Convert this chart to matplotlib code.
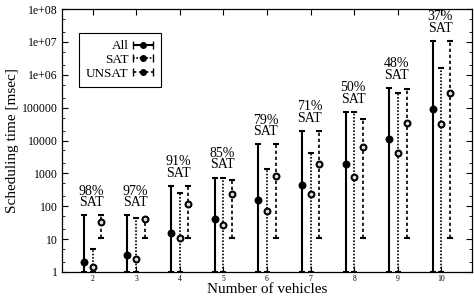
import matplotlib
matplotlib.use("Agg")
import matplotlib.pyplot as plt
import numpy as np
from matplotlib.container import ErrorbarContainer
from matplotlib.legend_handler import HandlerErrorbar

plt.rcParams['font.family'] = ['Liberation Serif', 'DejaVu Serif']

# number of vehicles
vehicles = np.array([2, 3, 4, 5, 6, 7, 8, 9, 10])
sat_ratio = [98, 97, 91, 85, 79, 71, 50, 48, 37]

# scheduling time [msec]: min / mean / max
all_lo = [1, 1, 1, 1, 1, 1, 1, 1, 1]
all_mid = [2.0, 3.4, 15.6, 42, 155, 440, 1880, 10800, 90000]
all_hi = [54, 54, 420, 740, 7600, 19600, 74000, 400000, 1.07e7]

sat_lo = [1, 1, 1, 1, 1, 1, 1, 1, 1]
sat_mid = [1.4, 2.5, 11, 26, 73, 230, 790, 4150, 31000]
sat_hi = [4.9, 43, 250, 740, 1320, 4050, 74000, 280000, 1.66e6]

unsat_lo = [11, 11, 11, 11, 11, 11, 11, 11, 11]
unsat_mid = [33, 40, 117, 235, 830, 1900, 6400, 33000, 270000]
unsat_hi = [54, 43, 420, 630, 7600, 19600, 46000, 380000, 1.07e7]

yticks = [1, 10, 100, 1000, 10000, 100000, 1e6, 1e7, 1e8]
ytick_labels = ['1', '10', '100', '1000', '10000', '100000', '1e+06', '1e+07', '1e+08']

fig = plt.figure(figsize=(4.74, 3.01), dpi=100)
ax = fig.add_axes([62 / 474, 29 / 301, 410 / 474, 263 / 301])
ax.set_yscale('log')

series = [
    ('All', -0.2, all_lo, all_mid, all_hi, '-', 1.5, 'black'),
    ('SAT', 0.0, sat_lo, sat_mid, sat_hi, (0, (1, 1)), 1.2, '#dddddd'),
    ('UNSAT', 0.2, unsat_lo, unsat_mid, unsat_hi, (0, (2, 1.6)), 1.2, '#dddddd'),
]

handles = []
for name, off, lo, mid, hi, ls, lw, mfc in series:
    mid = np.array(mid)
    err = [mid - np.array(lo), np.array(hi) - mid]
    eb = ax.errorbar(vehicles + off, mid, yerr=err, fmt='o', color='black',
                     ms=4.2, mfc=mfc, mec='black', mew=1.5,
                     elinewidth=lw, capsize=2.2, capthick=1.2, zorder=3)
    eb[2][0].set_linestyle(ls)
    # proxy for a horizontal legend sample
    px = ax.errorbar([np.nan], [np.nan], xerr=[np.nan], fmt='o', color='black',
                     ms=4.0, mfc='black', mec='black', mew=1.0,
                     elinewidth=lw, capsize=3, capthick=1.0, label=name)
    px[2][0].set_linestyle(ls)
    handles.append(px)

# SAT ratio labels
tops = np.max([all_hi, sat_hi, unsat_hi], axis=0)
for v, t, r in zip(vehicles, tops, sat_ratio):
    ax.annotate(f'{r}%\nSAT', xy=(v, t), xytext=(-0.8, 4.5), textcoords='offset points',
                ha='center', va='bottom', fontsize=10, linespacing=0.82,
                multialignment='center')

ax.set_xlim(1.3, 10.7)
ax.set_ylim(1, 1e8)
ax.set_xticks(vehicles)
ax.set_xticklabels([str(v) for v in vehicles], fontsize=5.5)
ax.set_yticks(yticks)
ax.set_yticklabels(ytick_labels, fontsize=8.5)
ax.yaxis.set_minor_locator(matplotlib.ticker.LogLocator(base=10, subs=(2, 5), numticks=20))
ax.yaxis.set_minor_formatter(matplotlib.ticker.NullFormatter())
ax.tick_params(axis='both', which='major', direction='in', length=4, width=0.8,
               top=True, right=True)
ax.tick_params(axis='y', which='major', pad=3)
ax.tick_params(axis='x', which='major', pad=2)
ax.tick_params(axis='y', which='minor', direction='in', length=2, width=0.6, right=True)
for s in ax.spines.values():
    s.set_linewidth(0.9)

ax.set_xlabel('Number of vehicles', fontsize=11, labelpad=0.5)
ax.set_ylabel('Scheduling time [msec]', fontsize=11, labelpad=2)

leg = ax.legend(handles=handles, loc='upper left', bbox_to_anchor=(0.041, 0.909),
                borderaxespad=0, markerfirst=False, numpoints=1, fontsize=9.5,
                handlelength=1.6, handletextpad=0.3, labelspacing=0.1,
                borderpad=0.55, fancybox=False, framealpha=1, edgecolor='black',
                handler_map={ErrorbarContainer: HandlerErrorbar(xerr_size=0.75)})
leg.get_frame().set_linewidth(0.8)

fig.savefig('out.png', dpi=100)
